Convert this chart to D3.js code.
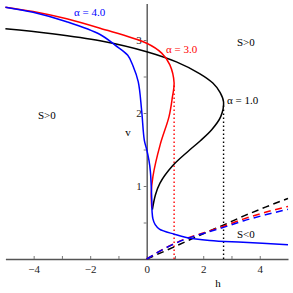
<!DOCTYPE html>
<html>
<head>
<meta charset="utf-8">
<script src="https://cdn.jsdelivr.net/npm/d3@7"></script>
<style>
  body { margin: 0; background: #fff; }
  svg text { font-family: "Liberation Serif", "Times New Roman", serif; }
</style>
</head>
<body>
<svg id="chart" width="293" height="293"></svg>
<script>
// curves: h (x) and v (y) for each alpha
const hBlack = [-5.0, -3.42, -1.65, 0, 1.05, 1.87, 2.34, 2.6, 2.72, 2.62, 2.3, 1.9, 1.45, 0.9, 0.47, 0.31, 0.2];
const vBlack = [3.155, 3.09, 2.99, 2.84, 2.70, 2.54, 2.41, 2.28, 2.15, 1.95, 1.77, 1.62, 1.47, 1.27, 1.04, 0.88, 0.675];

const hRed = [-5.0, -4.02, -2.83, -1.65, 0, 0.53, 0.82, 0.97, 0.91, 0.79, 0.48, 0.22, 0.16, 0.18];
const vRed = [3.45, 3.39, 3.29, 3.16, 2.955, 2.82, 2.66, 2.41, 2.22, 1.95, 1.57, 1.13, 0.9, 0.7];

const hBlue = [-5.0, -4.02, -2.83, -1.65, -1.12, -0.67, -0.48, -0.30, -0.18, -0.085, 0, 0.08, 0.13, 0.16, 0.18, 0.19, 0.22, 0.30, 0.45, 0.97, 1.4, 2.23, 3.41, 5.0];
const vBlue = [3.45, 3.38, 3.25, 3.075, 2.93, 2.79, 2.64, 2.43, 2.04, 1.63, 1.5, 1.35, 1.2, 1.0, 0.8, 0.65, 0.55, 0.47, 0.41, 0.34, 0.295, 0.255, 0.229, 0.196];

// dashed lines from the origin
const hDash = [0, 0.65, 1.36, 2.06, 2.77, 3.44, 4.2, 5.0];
const vDashBlack = [0, 0.11, 0.235, 0.355, 0.475, 0.59, 0.71, 0.83];
const vDashRed = [0, 0.148, 0.275, 0.365, 0.455, 0.55, 0.64, 0.72];
const vDashBlue = [0, 0.146, 0.27, 0.356, 0.44, 0.525, 0.605, 0.68];

// dotted verticals at the turning points
const dotH = [0.97, 2.72];
const dotTop = [2.38, 2.13];
const dotColor = ['red', 'black'];

const xTicks = [-4, -3, -2, -1, 0, 1, 2, 3, 4];
const xLabels = [-4, -2, 0, 2, 4];
const yTicks = [0.5, 1, 1.5, 2, 2.5, 3];
const yLabels = [1, 2, 3];

const svg = d3.select('#chart');

const x = d3.scaleLinear().domain([-5, 5]).range([5.4, 288]);
const y = d3.scaleLinear().domain([0, 3.5]).range([259, 3.5]);

const zip = (hs, vs) => hs.map((h, i) => [h, vs[i]]);

const line = d3.line()
    .x(d => x(d[0]))
    .y(d => y(d[1]))
    .curve(d3.curveCatmullRom.alpha(0.5));

const straight = d3.line()
    .x(d => x(d[0]))
    .y(d => y(d[1]))
    .curve(d3.curveMonotoneX);

// axes
const xAxis = d3.axisBottom(x)
    .tickValues(xTicks)
    .tickSizeInner(-3)
    .tickSizeOuter(0)
    .tickPadding(6)
    .tickFormat(d => xLabels.includes(d) ? d3.format('d')(d) : '');

const yAxis = d3.axisLeft(y)
    .tickValues(yTicks)
    .tickSizeInner(3)
    .tickSizeOuter(0)
    .tickPadding(2)
    .tickFormat(d => yLabels.includes(d) ? d3.format('d')(d) : '');

const gx = svg.append('g')
    .attr('transform', `translate(0, ${y(0)})`)
    .call(xAxis);

const gy = svg.append('g')
    .attr('transform', `translate(${x(0)}, 0)`)
    .call(yAxis);

[gx, gy].forEach(g => {
    g.select('.domain').attr('stroke', '#555').attr('stroke-width', 1.4);
    g.selectAll('.tick line').attr('stroke', '#777');
    g.selectAll('.tick text')
        .attr('font-size', 11)
        .attr('fill', '#222');
});

svg.append('text')
    .attr('x', 218).attr('y', 287)
    .attr('text-anchor', 'middle')
    .attr('font-size', 11)
    .text('h');

svg.append('text')
    .attr('x', 128).attr('y', 136)
    .attr('text-anchor', 'middle')
    .attr('font-size', 11)
    .text('v');

// dotted verticals
dotH.forEach((h, i) => {
    svg.append('path')
        .datum([[h, 0], [h, dotTop[i]]])
        .attr('d', straight)
        .attr('stroke', dotColor[i])
        .attr('stroke-width', 1.4)
        .attr('stroke-dasharray', '1.4,2.6')
        .attr('fill', 'none');
});

// dashed lines
[[vDashBlack, 'black'], [vDashRed, 'red'], [vDashBlue, 'blue']].forEach(([vs, c]) => {
    svg.append('path')
        .datum(zip(hDash, vs))
        .attr('d', straight)
        .attr('stroke', c)
        .attr('stroke-width', 1.5)
        .attr('stroke-dasharray', '7,4.5')
        .attr('fill', 'none');
});

// solid curves
[[hBlack, vBlack, 'black'], [hRed, vRed, 'red'], [hBlue, vBlue, 'blue']].forEach(([hs, vs, c]) => {
    svg.append('path')
        .datum(zip(hs, vs))
        .attr('d', line)
        .attr('stroke', c)
        .attr('stroke-width', 1.5)
        .attr('fill', 'none');
});

// labels
const labels = [
    { t: 'α = 4.0', x: 74, y: 16, c: 'blue' },
    { t: 'α = 3.0', x: 166, y: 53, c: 'red' },
    { t: 'α = 1.0', x: 227, y: 104, c: 'black' },
    { t: 'S>0', x: 237, y: 46, c: 'black' },
    { t: 'S>0', x: 38, y: 119, c: 'black' },
    { t: 'S<0', x: 237, y: 238, c: 'black' }
];

svg.selectAll('.lbl')
    .data(labels)
    .enter().append('text')
    .attr('class', 'lbl')
    .attr('x', d => d.x)
    .attr('y', d => d.y)
    .attr('fill', d => d.c)
    .attr('font-size', 11)
    .text(d => d.t);
</script>
</body>
</html>
